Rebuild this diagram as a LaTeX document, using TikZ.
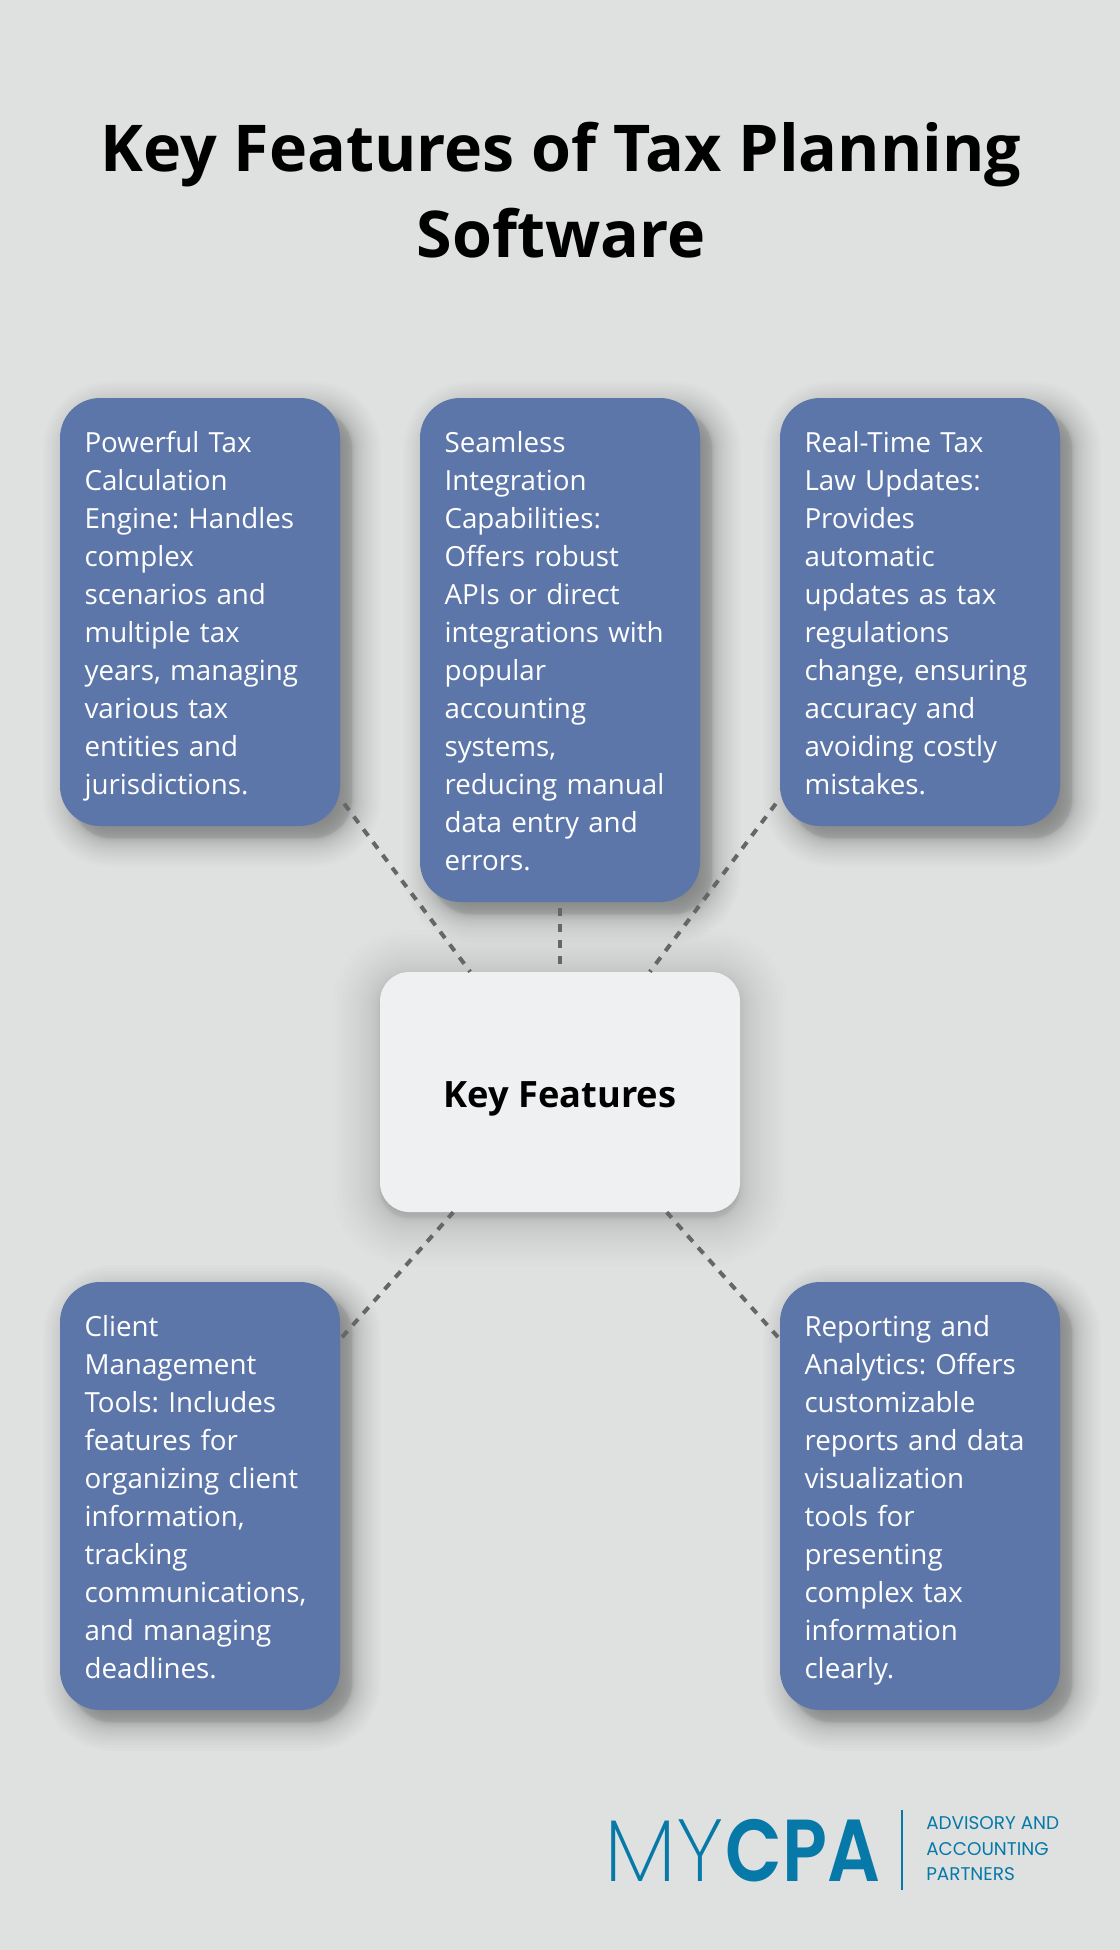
\documentclass[tikz,border=0pt]{standalone}
\usepackage{fontspec}
\setmainfont{Open Sans}
\newfontfamily\logofont{Poppins}
\newfontfamily\logothin{Poppins ExtraLight}
\newfontfamily\logobold[FakeStretch=0.84]{Poppins SemiBold}
\usetikzlibrary{
  calc,
  backgrounds
}
\definecolor{mcBack}{HTML}{DFE1E0}
\definecolor{mcBlue}{HTML}{5D76A9}
\definecolor{mcPale}{HTML}{EFF0F2}
\definecolor{mcDash}{HTML}{666666}
\definecolor{mcLogo}{HTML}{0679A8}
\newcommand{\boxstrut}{\rule[-5.3pt]{0pt}{28.5pt}}
% soft shadow: node, x shift, y shift, spread, corner radius (pt), opacity per layer
\newcommand{\softshadow}[6]{
  \foreach \k in {0,...,39} {
    \pgfmathsetmacro{\ramp}{1-2*(\k+0.5)/40}
    \pgfmathsetmacro{\grow}{#4*\ramp*abs(\ramp)}
    \pgfmathsetmacro{\bend}{max(#5+0.75*\grow,1)}
    \fill[black, opacity=#6, rounded corners=\bend pt]
      ($(#1.north west)+(#2-\grow,#3-\grow)$) rectangle ($(#1.south east)+(#2+\grow,#3+\grow)$);
  }
}

\begin{document}
\begin{tikzpicture}[
  x=0.75pt, y=-0.75pt,
  card/.style={
    rectangle, rounded corners=30pt,
    fill=mcBlue, text=white, align=left,
    font=\fontsize{20.8}{28.5}\selectfont\frenchspacing,
    text width=173.2pt, inner xsep=18.4pt, inner ysep=18pt,
    execute at begin node=\boxstrut,
    execute at end node=\boxstrut
  },
  hub/.style={
    rectangle, rounded corners=22pt,
    fill=mcPale, font=\fontsize{27.2}{34}\selectfont\bfseries,
    text height=23.2pt, text depth=0pt,
    minimum width=270pt, minimum height=180pt
  },
  link/.style={draw=mcDash, line width=3pt, dash pattern=on 6pt off 6pt, dash phase=#1},
  brand/.style={anchor=base west, inner sep=0pt, text=mcLogo, font=\logofont\fontsize{13.8}{15}\selectfont}
]
 \useasboundingbox (0,0) rectangle (1120,1950);

 % Title
 \node[align=center, font=\fontsize{48.4}{64.5}\selectfont\bfseries] (title) at (561,190)
  {Key Features of Tax Planning\\Software};

 % Top row of cards
 \node[card] (calc) at (200,612)
  {Powerful Tax\\Calculation\\Engine: Handles\\complex\\scenarios and\\multiple tax\\years, managing\\various tax\\entities and\\jurisdictions.};
 \node[card] (integ) at (560,650)
  {Seamless\\Integration\\Capabilities:\\Offers robust\\APIs or direct\\integrations with\\popular\\accounting\\systems,\\reducing manual\\data entry and\\errors.};
 \node[card] (laws) at (920,612)
  {Real-Time Tax\\Law Updates:\\Provides\\automatic\\updates as tax\\regulations\\change, ensuring\\accuracy and\\avoiding costly\\mistakes.};

 % Centre
 \node[hub] (key) at (560,1092) {Key Features};

 % Bottom row of cards
 \node[card] (client) at (200,1496)
  {Client\\Management\\Tools: Includes\\features for\\organizing client\\information,\\tracking\\communications,\\and managing\\deadlines.};
 \node[card] (report) at (920,1496)
  {Reporting and\\Analytics: Offers\\customizable\\reports and data\\visualization\\tools for\\presenting\\complex tax\\information\\clearly.};

 % Page colour and shadows
 \begin{scope}[on background layer]
  \fill[mcBack] (0,0) rectangle (1120,1950);
  \softshadow{calc}{12}{12}{30}{30}{0.012}
  \softshadow{integ}{12}{12}{30}{30}{0.012}
  \softshadow{laws}{12}{12}{30}{30}{0.012}
  \softshadow{client}{12}{12}{30}{30}{0.012}
  \softshadow{report}{12}{12}{30}{30}{0.012}
  \softshadow{key}{0}{6}{50}{22}{0.008}
 \end{scope}

 % Connectors, phase set so the dashes count from the hub centre
 \draw[link=4.5pt] (key) -- (calc);
 \draw[link=6pt] (key) -- (integ);
 \draw[link=4.5pt] (key) -- (laws);
 \draw[link=0.6pt] (key) -- (client);
 \draw[link=0.6pt] (key) -- (report);

 % Logo
 \node[brand, font=\logothin\fontsize{66}{66}\selectfont] (my) at (604,1881) {MY};
 \node[brand, font=\logobold\fontsize{66}{66}\selectfont] (cpa) at (725.5,1881) {CPA};
 \coordinate (ruletop) at (902,1810);
 \coordinate (rulebot) at (902,1890);
 \draw[mcLogo, line width=0.9pt] (ruletop) -- (rulebot);
 \node[brand] (adv) at (926,1829) {ADVISORY AND};
 \node[brand] (acc) at (926,1855) {ACCOUNTING};
 \node[brand] (par) at (926,1880) {PARTNERS};
\end{tikzpicture}
\end{document}
